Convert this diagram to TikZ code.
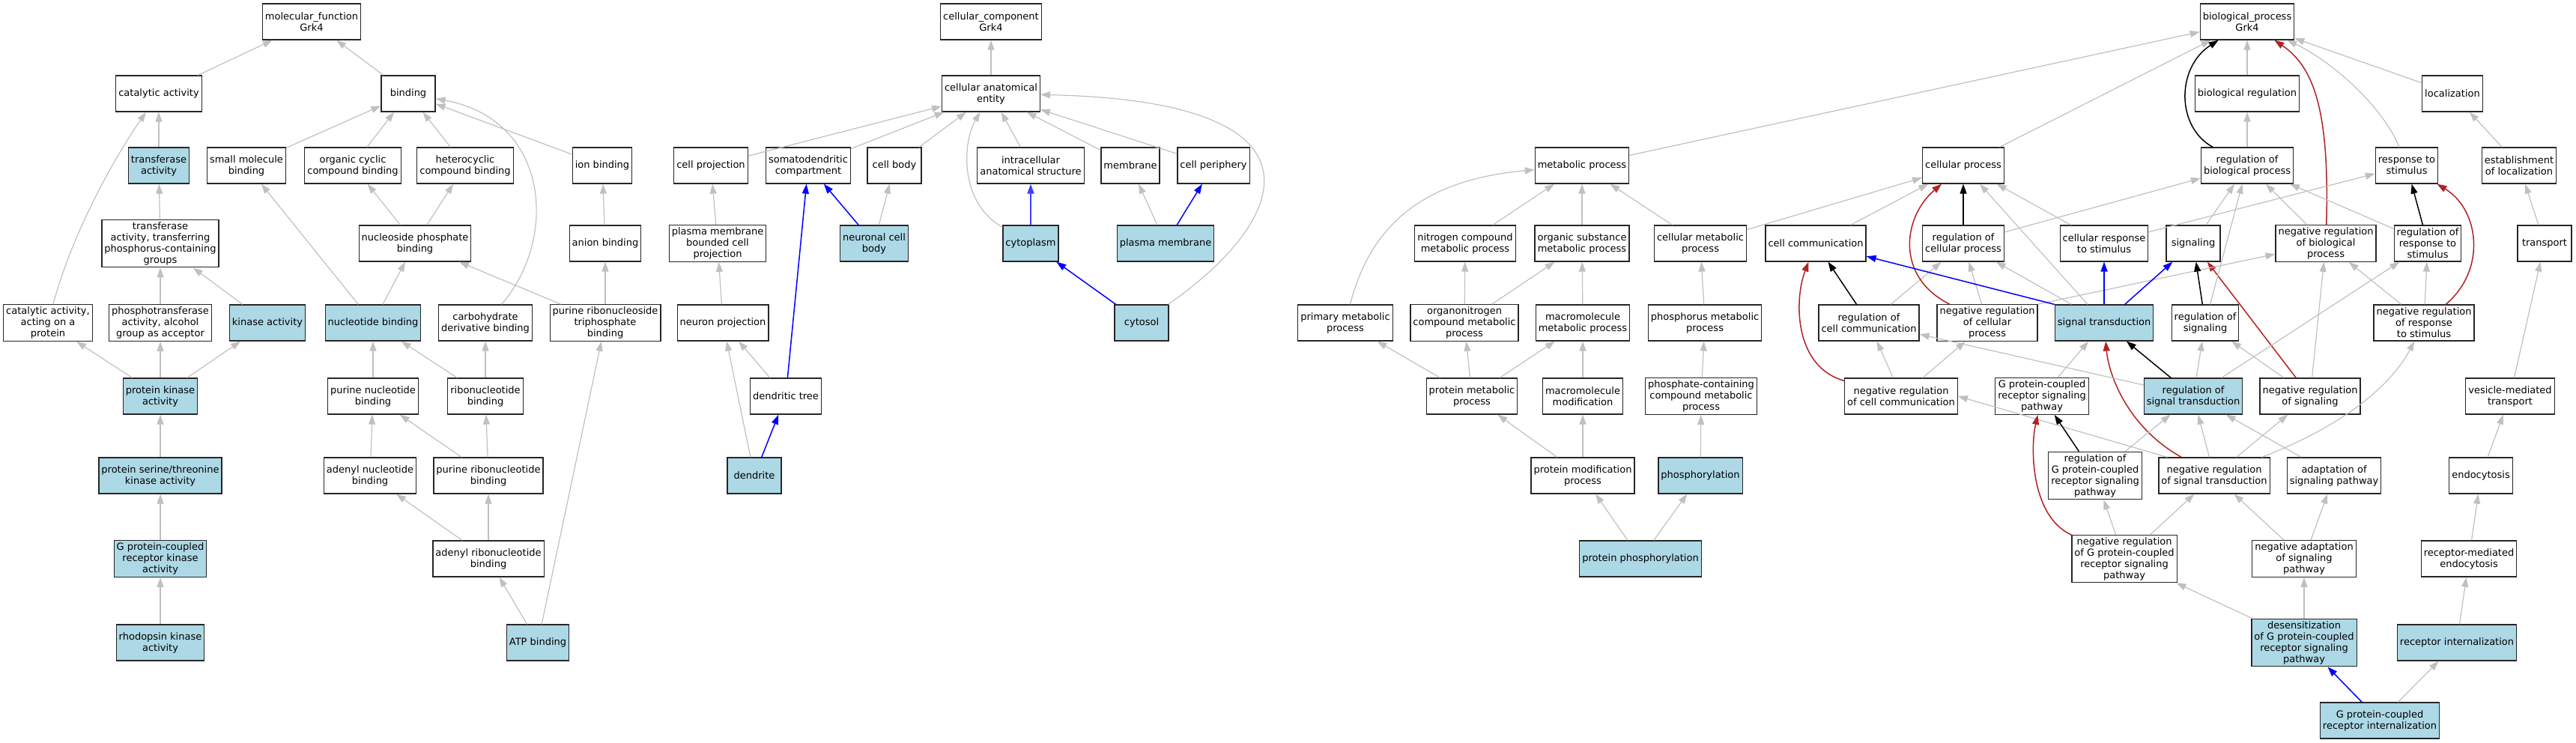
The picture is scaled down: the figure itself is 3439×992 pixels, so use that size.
\documentclass[tikz,border=0pt]{standalone}
\usepackage{fontspec}
\setmainfont{DejaVu Sans}
\usepackage{tikz}
\usetikzlibrary{arrows.meta}
\definecolor{hitblue}{RGB}{173,216,230}
\definecolor{isagray}{RGB}{192,192,192}
\definecolor{negred}{RGB}{178,34,34}
\tikzset{
    term/.style = {rectangle, minimum width=72pt, minimum height=48pt, inner xsep=3.5pt, inner ysep=3pt, align=center, draw=black!85, line width=1.2pt, fill=white, font=\fontsize{13}{15}\selectfont},
    hit/.style = {term, fill=hitblue},
    arrow/.style = {line width=1.2pt, draw=isagray, -{Triangle[length=13pt,width=9pt]}},
    partarrow/.style = {line width=1.5pt, draw=blue, -{Triangle[length=13pt,width=9pt]}},
    regarrow/.style = {line width=1.5pt, draw=black, -{Triangle[length=13pt,width=9pt]}},
    negarrow/.style = {line width=1.5pt, draw=negred, -{Triangle[length=13pt,width=9pt]}}
}
\begin{document}
\begin{tikzpicture}[x=1pt, y=-1pt]
\useasboundingbox (0,0) rectangle (3439,992);

\node (mf) [term] at (416,29) {molecular\_function\\Grk4};
\node (catalytic) [term] at (212,125) {catalytic activity};
\node (binding) [term] at (545,125) {binding};
\node (transferase) [hit] at (212,221) {transferase\\activity};
\node (smallmol) [term] at (329,221) {small molecule\\binding};
\node (orgcyclic) [term] at (471,221) {organic cyclic\\compound binding};
\node (heterocyclic) [term] at (621,221) {heterocyclic\\compound binding};
\node (ionbinding) [term] at (804,221) {ion binding};
\node (transphos) [term] at (214,325) {transferase\\activity, transferring\\phosphorus-containing\\groups};
\node (nucphos) [term] at (554,325) {nucleoside phosphate\\binding};
\node (anion) [term] at (808,325) {anion binding};
\node (catprot) [term] at (64,431) {catalytic activity,\\acting on a\\protein};
\node (phosphotrans) [term] at (214,431) {phosphotransferase\\activity, alcohol\\group as acceptor};
\node (kinase) [hit] at (357,431) {kinase activity};
\node (nucleotide) [hit] at (498,431) {nucleotide binding};
\node (carbo) [term] at (648,431) {carbohydrate\\derivative binding};
\node (prtp) [term] at (808,431) {purine ribonucleoside\\triphosphate\\binding};
\node (protkinase) [hit] at (214,529) {protein kinase\\activity};
\node (purinenuc) [term] at (498,529) {purine nucleotide\\binding};
\node (ribonuc) [term] at (648,529) {ribonucleotide\\binding};
\node (serthr) [hit] at (214,635) {protein serine/threonine\\kinase activity};
\node (adenylnuc) [term] at (494,635) {adenyl nucleotide\\binding};
\node (purineribo) [term] at (652,635) {purine ribonucleotide\\binding};
\node (gpcrkinase) [hit] at (214,746) {G protein-coupled\\receptor kinase\\activity};
\node (adenylribo) [term] at (652,746) {adenyl ribonucleotide\\binding};
\node (rhodopsin) [hit] at (214,858) {rhodopsin kinase\\activity};
\node (atp) [hit] at (718,858) {ATP binding};

\node (cc) [term] at (1323,29) {cellular\_component\\Grk4};
\node (cae) [term] at (1323,125) {cellular anatomical\\entity};
\node (cellproj) [term] at (949,221) {cell projection};
\node (somato) [term] at (1079,221) {somatodendritic\\compartment};
\node (cellbody) [term] at (1194,221) {cell body};
\node (intracell) [term] at (1376,221) {intracellular\\anatomical structure};
\node (membrane) [term] at (1509,221) {membrane};
\node (periphery) [term] at (1620,221) {cell periphery};
\node (pmbcp) [term] at (958,325) {plasma membrane\\bounded cell\\projection};
\node (neurbody) [hit] at (1167,325) {neuronal cell\\body};
\node (cytoplasm) [hit] at (1376,325) {cytoplasm};
\node (plasmamem) [hit] at (1556,325) {plasma membrane};
\node (neurproj) [term] at (965,431) {neuron projection};
\node (cytosol) [hit] at (1524,431) {cytosol};
\node (dendtree) [term] at (1049,529) {dendritic tree};
\node (dendrite) [hit] at (1007,635) {dendrite};

\node (bp) [term] at (3000,29) {biological\_process\\Grk4};
\node (bioreg) [term] at (3000,125) {biological regulation};
\node (localization) [term] at (3274,125) {localization};
\node (metabolic) [term] at (2112,221) {metabolic process};
\node (cellproc) [term] at (2621,221) {cellular process};
\node (regbio) [term] at (3000,221) {regulation of\\biological process};
\node (respstim) [term] at (3213,221) {response to\\stimulus};
\node (estloc) [term] at (3363,221) {establishment\\of localization};
\node (nitrogen) [term] at (1956,325) {nitrogen compound\\metabolic process};
\node (orgsub) [term] at (2112,325) {organic substance\\metabolic process};
\node (cellmet) [term] at (2270,325) {cellular metabolic\\process};
\node (cellcomm) [term] at (2424,325) {cell communication};
\node (regcell) [term] at (2621,325) {regulation of\\cellular process};
\node (cellresp) [term] at (2809,325) {cellular response\\to stimulus};
\node (signaling) [term] at (2928,325) {signaling};
\node (negregbio) [term] at (3105,325) {negative regulation\\of biological\\process};
\node (regresp) [term] at (3241,325) {regulation of\\response to\\stimulus};
\node (transport) [term] at (3397,325) {transport};
\node (primary) [term] at (1796,431) {primary metabolic\\process};
\node (organonit) [term] at (1955,431) {organonitrogen\\compound metabolic\\process};
\node (macromet) [term] at (2113,431) {macromolecule\\metabolic process};
\node (phosmet) [term] at (2276,431) {phosphorus metabolic\\process};
\node (regcomm) [term] at (2495,431) {regulation of\\cell communication};
\node (negregcell) [term] at (2653,431) {negative regulation\\of cellular\\process};
\node (sigtrans) [hit] at (2809,431) {signal transduction};
\node (regsig) [term] at (2944,431) {regulation of\\signaling};
\node (negregresp) [term] at (3236,431) {negative regulation\\of response\\to stimulus};
\node (protmet) [term] at (1965,529) {protein metabolic\\process};
\node (macromod) [term] at (2113,529) {macromolecule\\modification};
\node (phoscont) [term] at (2271,529) {phosphate-containing\\compound metabolic\\process};
\node (negregcomm) [term] at (2538,529) {negative regulation\\of cell communication};
\node (gpcrsp) [term] at (2726,529) {G protein-coupled\\receptor signaling\\pathway};
\node (regsigtrans) [hit] at (2928,529) {regulation of\\signal transduction};
\node (negregsig) [term] at (3084,529) {negative regulation\\of signaling};
\node (vesicle) [term] at (3351,529) {vesicle-mediated\\transport};
\node (protmod) [term] at (2113,635) {protein modification\\process};
\node (phosphoryl) [hit] at (2270,635) {phosphorylation};
\node (reggpcr) [term] at (2797,635) {regulation of\\G protein-coupled\\receptor signaling\\pathway};
\node (negregsigtrans) [term] at (2956,635) {negative regulation\\of signal transduction};
\node (adaptation) [term] at (3116,635) {adaptation of\\signaling pathway};
\node (endocytosis) [term] at (3312,635) {endocytosis};
\node (protphos) [hit] at (2190,746) {protein phosphorylation};
\node (neggpcr) [term] at (2836,746) {negative regulation\\of G protein-coupled\\receptor signaling\\pathway};
\node (negadapt) [term] at (3076,746) {negative adaptation\\of signaling\\pathway};
\node (rme) [term] at (3296,746) {receptor-mediated\\endocytosis};
\node (desens) [hit] at (3076,858) {desensitization\\of G protein-coupled\\receptor signaling\\pathway};
\node (recint) [hit] at (3280,858) {receptor internalization};
\node (gpcrint) [hit] at (3177,962) {G protein-coupled\\receptor internalization};

\draw [arrow] (catalytic) -- (mf);
\draw [arrow] (binding) -- (mf);
\draw [arrow] (transferase) -- (catalytic);
\draw [arrow] (catprot) .. controls (100,300) and (160,200) .. (catalytic);
\draw [arrow] (smallmol) -- (binding);
\draw [arrow] (orgcyclic) -- (binding);
\draw [arrow] (heterocyclic) -- (binding);
\draw [arrow] (ionbinding) -- (binding);
\draw [arrow] (carbo) .. controls (745,320) and (735,160) .. (binding);
\draw [arrow] (transphos) -- (transferase);
\draw [arrow] (phosphotrans) -- (transphos);
\draw [arrow] (kinase) -- (transphos);
\draw [arrow] (nucphos) -- (orgcyclic);
\draw [arrow] (nucphos) -- (heterocyclic);
\draw [arrow] (nucleotide) -- (smallmol);
\draw [arrow] (nucleotide) -- (nucphos);
\draw [arrow] (prtp) -- (nucphos);
\draw [arrow] (prtp) -- (anion);
\draw [arrow] (anion) -- (ionbinding);
\draw [arrow] (protkinase) -- (catprot);
\draw [arrow] (protkinase) -- (phosphotrans);
\draw [arrow] (protkinase) -- (kinase);
\draw [arrow] (serthr) -- (protkinase);
\draw [arrow] (gpcrkinase) -- (serthr);
\draw [arrow] (rhodopsin) -- (gpcrkinase);
\draw [arrow] (purinenuc) -- (nucleotide);
\draw [arrow] (ribonuc) -- (nucleotide);
\draw [arrow] (ribonuc) -- (carbo);
\draw [arrow] (adenylnuc) -- (purinenuc);
\draw [arrow] (purineribo) -- (purinenuc);
\draw [arrow] (purineribo) -- (ribonuc);
\draw [arrow] (adenylribo) -- (adenylnuc);
\draw [arrow] (adenylribo) -- (purineribo);
\draw [arrow] (atp) -- (adenylribo);
\draw [arrow] (atp) -- (prtp);

\draw [arrow] (cae) -- (cc);
\draw [arrow] (cellproj) -- (cae);
\draw [arrow] (somato) -- (cae);
\draw [arrow] (cellbody) -- (cae);
\draw [arrow] (intracell) -- (cae);
\draw [arrow] (cytoplasm) .. controls (1280,270) and (1285,190) .. (cae);
\draw [arrow] (membrane) -- (cae);
\draw [arrow] (periphery) -- (cae);
\draw [arrow] (cytosol) .. controls (1720,295) and (1790,135) .. (cae);
\draw [arrow] (pmbcp) -- (cellproj);
\draw [arrow] (neurproj) -- (pmbcp);
\draw [partarrow] (neurbody) -- (somato);
\draw [arrow] (neurbody) -- (cellbody);
\draw [partarrow, line width=2.2pt, draw=blue!75] (cytoplasm) -- (intracell);
\draw [partarrow] (cytosol) -- (cytoplasm);
\draw [arrow] (plasmamem) -- (membrane);
\draw [partarrow] (plasmamem) -- (periphery);
\draw [partarrow] (dendtree) -- (somato);
\draw [arrow] (dendtree) -- (neurproj);
\draw [partarrow] (dendrite) -- (dendtree);
\draw [arrow] (dendrite) -- (neurproj);

\draw [arrow] (metabolic) -- (bp);
\draw [arrow] (cellproc) -- (bp);
\draw [regarrow] (regbio) .. controls (2905,170) and (2905,90) .. (bp);
\draw [arrow] (bioreg) -- (bp);
\draw [negarrow] (negregbio) .. controls (3110,150) and (3090,90) .. (bp);
\draw [arrow] (respstim) .. controls (3180,140) and (3110,80) .. (bp);
\draw [arrow] (localization) -- (bp);
\draw [arrow] (regbio) -- (bioreg);
\draw [arrow] (estloc) -- (localization);
\draw [arrow] (transport) -- (estloc);
\draw [arrow] (vesicle) -- (transport);
\draw [arrow] (endocytosis) -- (vesicle);
\draw [arrow] (rme) -- (endocytosis);
\draw [arrow] (recint) -- (rme);
\draw [arrow] (gpcrint) -- (recint);
\draw [partarrow] (gpcrint) -- (desens);
\draw [arrow] (desens) -- (negadapt);
\draw [arrow] (desens) -- (neggpcr);
\draw [arrow] (negadapt) -- (negregsigtrans);
\draw [arrow] (negadapt) -- (adaptation);
\draw [arrow] (adaptation) -- (regsigtrans);
\draw [arrow] (negregsigtrans) -- (negregsig);
\draw [arrow] (negregsigtrans) .. controls (3150,560) and (3200,500) .. (negregresp);
\draw [arrow] ([xshift=12pt]negregsigtrans.north west) -- (negregcomm.east);
\draw [negarrow] (negregsigtrans) .. controls (2840,570) and (2815,500) .. (sigtrans);
\draw [arrow] (negregsigtrans) -- (regsigtrans);
\draw [arrow] (negregsig) -- (regsig);
\draw [negarrow] (negregsig) -- (signaling);
\draw [arrow] (negregsig) -- (negregbio);
\draw [arrow] (regsigtrans) -- (regresp);
\draw [regarrow] (regsigtrans) -- (sigtrans);
\draw [arrow] (regsigtrans) -- (regsig);
\draw [arrow] (regsigtrans) -- (regcomm);
\draw [regarrow] (reggpcr) -- (gpcrsp);
\draw [arrow] (reggpcr) -- (regsigtrans);
\draw [negarrow] (neggpcr) .. controls (2712,690) and (2710,600) .. (gpcrsp);
\draw [arrow] (neggpcr) -- (reggpcr);
\draw [arrow] (neggpcr) -- (negregsigtrans);
\draw [arrow] (gpcrsp) -- (sigtrans);
\draw [negarrow] (negregcomm) .. controls (2395,490) and (2395,400) .. (cellcomm);
\draw [arrow] (negregcomm) -- (regcomm);
\draw [arrow] (negregcomm) -- (negregcell);
\draw [regarrow] (regcomm) -- (cellcomm);
\draw [arrow] (regcomm) -- (regcell);
\draw [negarrow] (negregcell) .. controls (2530,370) and (2540,290) .. (cellproc);
\draw [arrow] (negregcell) -- (regcell);
\draw [arrow] (negregcell.north east) -- (negregbio);
\draw [partarrow] (sigtrans.north west) -- (cellcomm);
\draw [arrow] (sigtrans) -- (regcell);
\draw [arrow] (sigtrans) -- (cellproc);
\draw [partarrow] (sigtrans) -- (cellresp);
\draw [partarrow] (sigtrans) -- (signaling);
\draw [regarrow] (regcell) -- (cellproc);
\draw [arrow] (regcell) -- (regbio);
\draw [arrow] (cellresp) -- (respstim);
\draw [arrow] (cellresp) -- (cellproc);
\draw [arrow] (cellcomm) -- (cellproc);
\draw [arrow] (cellmet) -- (metabolic);
\draw [arrow] (cellmet) -- (cellproc);
\draw [arrow] (phosmet) -- (cellmet);
\draw [arrow] (phoscont) -- (phosmet);
\draw [arrow] (phosphoryl) -- (phoscont);
\draw [arrow] (signaling) -- (regbio);
\draw [arrow] (regsig) -- (regbio);
\draw [regarrow] (regsig) -- (signaling);
\draw [arrow] (negregbio) -- (regbio);
\draw [arrow] (regresp) -- (regbio);
\draw [regarrow] (regresp) -- (respstim);
\draw [arrow] (negregresp) -- (negregbio);
\draw [arrow] (negregresp) -- (regresp);
\draw [negarrow] (negregresp) .. controls (3320,360) and (3310,280) .. (respstim);
\draw [arrow] (primary) .. controls (1830,300) and (1900,240) .. (metabolic);
\draw [arrow] (nitrogen) -- (metabolic);
\draw [arrow] (orgsub) -- (metabolic);
\draw [arrow] (organonit) -- (nitrogen);
\draw [arrow] (organonit) -- (orgsub);
\draw [arrow] (macromet) -- (orgsub);
\draw [arrow] (protmet) -- (primary);
\draw [arrow] (protmet) -- (organonit);
\draw [arrow] (protmet) -- (macromet);
\draw [arrow] (macromod) -- (macromet);
\draw [arrow] (protmod) -- (protmet);
\draw [arrow] (protmod) -- (macromod);
\draw [arrow] (protphos) -- (protmod);
\draw [arrow] (protphos) -- (phosphoryl);
\end{tikzpicture}
\end{document}
